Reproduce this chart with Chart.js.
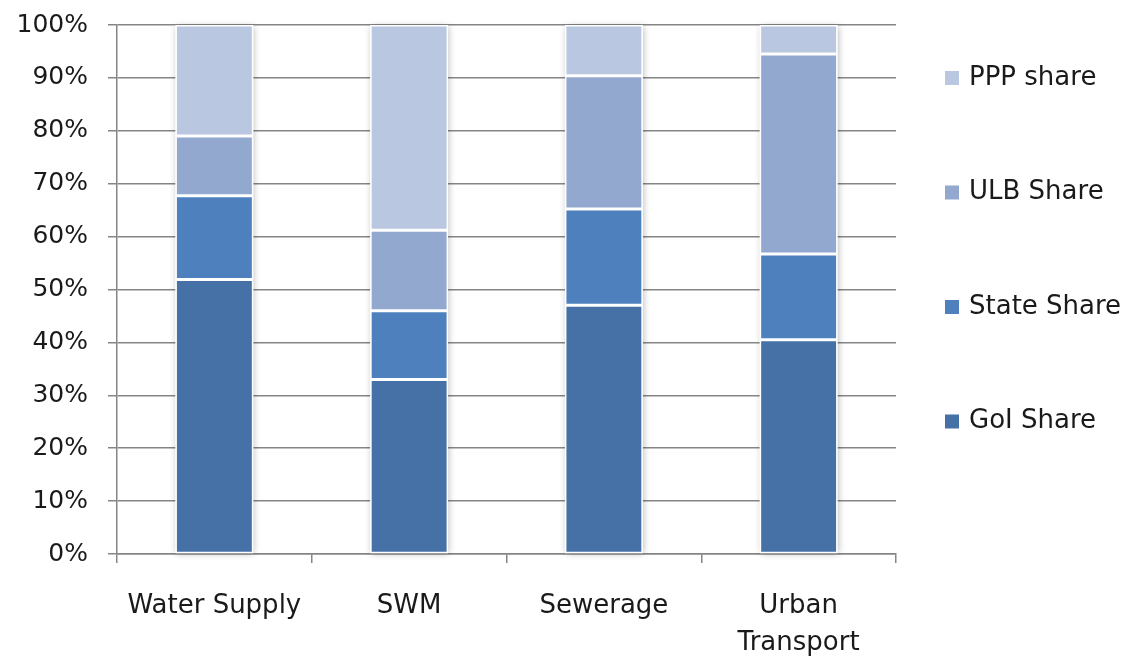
<!DOCTYPE html>
<html>
<head>
<meta charset="utf-8">
<script src="https://cdn.jsdelivr.net/npm/chart.js@4"></script>
<style>
  html, body { margin: 0; padding: 0; background: #fff; }
  #wrap { width: 1122px; height: 658px; }
</style>
</head>
<body>
<div id="wrap"><canvas id="c" width="1122" height="658"></canvas></div>
<script>
// Funding share by sector (% of project cost)
const categories = [['Water Supply'], ['SWM'], ['Sewerage'], ['Urban', 'Transport']];
const goiShare   = [51.9, 33.0, 47.0, 40.5];
const stateShare = [15.8, 13.0, 18.2, 16.2];
const ulbShare   = [11.3, 15.2, 25.2, 37.8];
const pppShare   = [21.0, 38.8, 9.6, 5.5];
const yTicks = [0, 10, 20, 30, 40, 50, 60, 70, 80, 90, 100];

const FONT = 'DejaVu Sans';
const TEXT = '#1a1a1a';
const GRID = '#858585';

// White backing with soft shadow behind each full stack
const stackShadow = {
  id: 'stackShadow',
  beforeDatasetsDraw(chart) {
    const ctx = chart.ctx;
    const first = chart.getDatasetMeta(0);
    const last = chart.getDatasetMeta(chart.data.datasets.length - 1);
    ctx.save();
    ctx.shadowColor = 'rgba(0,0,0,0.28)';
    ctx.shadowBlur = 7;
    ctx.shadowOffsetX = 1;
    ctx.shadowOffsetY = 1;
    ctx.fillStyle = '#ffffff';
    first.data.forEach((bar, i) => {
      const top = last.data[i].y;
      const bottom = bar.base;
      ctx.fillRect(bar.x - bar.width / 2, top, bar.width, bottom - top);
    });
    ctx.restore();
  }
};

// Legend column on the right, top entry = top of the stack
const sideLegend = {
  id: 'sideLegend',
  afterDraw(chart) {
    const ctx = chart.ctx;
    const ds = chart.data.datasets.slice().reverse();
    const x = chart.chartArea.right + 49;
    const y0 = 78, step = 114.5, box = 14;
    ctx.save();
    ctx.font = '26px "' + FONT + '"';
    ctx.textBaseline = 'middle';
    ctx.textAlign = 'left';
    ds.forEach((d, i) => {
      const y = y0 + i * step;
      ctx.fillStyle = d.backgroundColor;
      ctx.fillRect(x, y - box / 2, box, box);
      ctx.fillStyle = TEXT;
      ctx.fillText(d.label, x + box + 10, y);
    });
    ctx.restore();
  }
};

const common = {
  borderColor: '#ffffff',
  borderWidth: 1.5,
  borderSkipped: false,
  categoryPercentage: 0.4,
  barPercentage: 1.0
};

new Chart(document.getElementById('c'), {
  type: 'bar',
  data: {
    labels: categories,
    datasets: [
      Object.assign({ label: 'GoI Share',   data: goiShare,   backgroundColor: '#4571a6' }, common),
      Object.assign({ label: 'State Share', data: stateShare, backgroundColor: '#4e80bd' }, common),
      Object.assign({ label: 'ULB Share',   data: ulbShare,   backgroundColor: '#93a8cf' }, common),
      Object.assign({ label: 'PPP share',   data: pppShare,   backgroundColor: '#b9c7e0' }, common)
    ]
  },
  options: {
    responsive: false,
    animation: false,
    devicePixelRatio: 1,
    layout: { padding: { top: 25, right: 226, left: 0, bottom: 0 } },
    plugins: {
      legend: { display: false },
      tooltip: { enabled: false }
    },
    scales: {
      x: {
        stacked: true,
        offset: true,
        grid: {
          offset: true,
          drawOnChartArea: false,
          drawTicks: true,
          tickLength: 9,
          color: GRID,
          lineWidth: 1.5
        },
        border: { display: true, color: GRID, width: 1.5 },
        ticks: {
          color: TEXT,
          font: { family: FONT, size: 26, lineHeight: 1.42 },
          padding: 25,
          maxRotation: 0,
          autoSkip: false
        },
        afterFit(s) { s.height = 104; }
      },
      y: {
        stacked: true,
        min: 0,
        max: 100,
        afterBuildTicks(s) { s.ticks = yTicks.map(v => ({ value: v })); },
        grid: {
          color: GRID,
          lineWidth: 1.5,
          drawTicks: true,
          tickLength: 9
        },
        border: { display: true, color: GRID, width: 1.5 },
        ticks: {
          color: TEXT,
          font: { family: FONT, size: 25 },
          padding: 20,
          callback: v => v + '%'
        },
        afterFit(s) {
          s.width = 117;
          s.paddingTop = 0;
          s.paddingBottom = 0;
        }
      }
    }
  },
  plugins: [stackShadow, sideLegend]
});
</script>
</body>
</html>
